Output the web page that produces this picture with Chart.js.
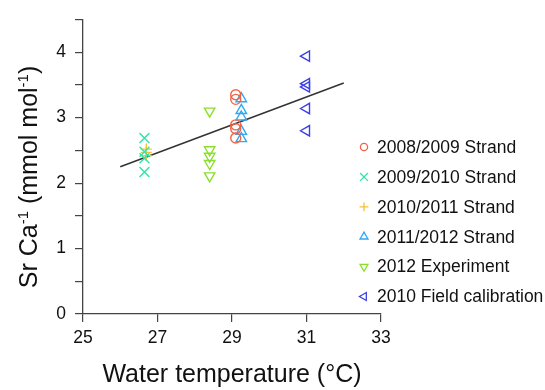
<!DOCTYPE html>
<html>
<head>
<meta charset="utf-8">
<script src="https://cdn.jsdelivr.net/npm/chart.js@4"></script>
<style>
  body { margin: 0; background: #fff; }
  #wrap { width: 545px; height: 390px; }
</style>
</head>
<body>
<div id="wrap"><canvas id="chart" width="545" height="390"></canvas></div>
<script>
"use strict"

// series (water temperature in °C, Sr/Ca in mmol/mol)
const labels = ['2008/2009 Strand', '2009/2010 Strand', '2010/2011 Strand',
  '2011/2012 Strand', '2012 Experiment', '2010 Field calibration']

const s0809X = [29.1, 29.1, 29.1, 29.1, 29.1]
const s0809Y = [3.35, 3.28, 2.89, 2.83, 2.69]
const s0910X = [26.65, 26.65, 26.65, 26.65]
const s0910Y = [2.69, 2.48, 2.38, 2.17]
const s1011X = [26.7, 26.7, 26.7]
const s1011Y = [2.52, 2.47, 2.42]
const s1112X = [29.25, 29.25, 29.25, 29.25, 29.25]
const s1112Y = [3.29, 3.11, 3.01, 2.79, 2.68]
const s12X = [28.4, 28.4, 28.4, 28.4, 28.4]
const s12Y = [3.10, 2.51, 2.41, 2.30, 2.11]
const s10fX = [31, 31, 31, 31, 31]
const s10fY = [3.94, 3.52, 3.47, 3.14, 2.80]

// regression line
const fitX = [26, 32]
const fitY = [2.25, 3.53]

const xTicks = [25, 27, 29, 31, 33]
const yTicks = [0, 1, 2, 3, 4]

const colors = ['#f06446', '#2ee6a6', '#f5c233', '#2fa9f4', '#8ae02a', '#3b3fe6']
const styles = [
  { pointStyle: 'circle', rotation: 0, radius: 5 },
  { pointStyle: 'crossRot', rotation: 0, radius: 7 },
  { pointStyle: 'cross', rotation: 0, radius: 5.5 },
  { pointStyle: 'triangle', rotation: 0, radius: 6 },
  { pointStyle: 'triangle', rotation: 180, radius: 6 },
  { pointStyle: 'triangle', rotation: -90, radius: 6 }
]
const legendRadius = [3.6, 5.6, 4.4, 4.6, 4.6, 4.6]

const FONT = "'Liberation Sans', Arial, sans-serif"

function pts(xs, ys) {
  return xs.map((x, i) => ({ x: x, y: ys[i] }))
}

const seriesX = [s0809X, s0910X, s1011X, s1112X, s12X, s10fX]
const seriesY = [s0809Y, s0910Y, s1011Y, s1112Y, s12Y, s10fY]

const datasets = seriesX.map((xs, i) => ({
  label: labels[i],
  data: pts(xs, seriesY[i]),
  pointStyle: styles[i].pointStyle,
  rotation: styles[i].rotation,
  pointRadius: styles[i].radius,
  pointHoverRadius: styles[i].radius,
  borderColor: colors[i],
  backgroundColor: 'rgba(0,0,0,0)',
  pointBorderWidth: 1.4,
  showLine: false
}))

datasets.push({
  type: 'line',
  label: 'fit',
  data: pts(fitX, fitY),
  borderColor: '#333',
  borderWidth: 1.5,
  pointRadius: 0,
  fill: false
})

// legend drawn next to the plot, overlapping the x range of the axis
const legendPlugin = {
  id: 'sideLegend',
  afterDraw(chart) {
    const ctx = chart.ctx
    ctx.save()
    ctx.font = '17.5px ' + FONT
    ctx.textBaseline = 'middle'
    labels.forEach((lab, i) => {
      const y = 147 + i * 29.9
      ctx.strokeStyle = colors[i]
      ctx.fillStyle = 'rgba(0,0,0,0)'
      ctx.lineWidth = 1.3
      Chart.helpers.drawPoint(ctx, {
        pointStyle: styles[i].pointStyle,
        rotation: styles[i].rotation,
        radius: legendRadius[i],
        borderWidth: 1.3
      }, 364, y)
      ctx.fillStyle = '#111'
      ctx.fillText(lab, 377, y + 1)
    })
    ctx.restore()
  }
}

// y title with superscripts
const yTitlePlugin = {
  id: 'yTitle',
  afterDraw(chart) {
    const ctx = chart.ctx
    const parts = [
      { t: 'Sr Ca', sup: false },
      { t: '-1', sup: true },
      { t: ' (mmol mol', sup: false },
      { t: '-1', sup: true },
      { t: ')', sup: false }
    ]
    const mainF = '25px ' + FONT
    const supF = '15px ' + FONT
    ctx.save()
    let w = 0
    parts.forEach(p => {
      ctx.font = p.sup ? supF : mainF
      p.w = ctx.measureText(p.t).width
      w += p.w
    })
    ctx.translate(37, 177)
    ctx.rotate(-Math.PI / 2)
    ctx.fillStyle = '#111'
    ctx.textBaseline = 'alphabetic'
    let x = -w / 2
    parts.forEach(p => {
      ctx.font = p.sup ? supF : mainF
      ctx.fillText(p.t, x, p.sup ? -9 : 0)
      x += p.w
    })
    ctx.restore()
  }
}

new Chart(document.getElementById('chart'), {
  type: 'scatter',
  data: { datasets: datasets },
  options: {
    responsive: false,
    animation: false,
    layout: { padding: { left: 0, right: 164, top: 16, bottom: 0 } },
    plugins: {
      legend: { display: false },
      tooltip: { enabled: false }
    },
    scales: {
      x: {
        type: 'linear',
        min: 25,
        max: 33,
        afterFit: (scale) => { scale.height = 76 },
        afterBuildTicks: (scale) => { scale.ticks = xTicks.map(v => ({ value: v })) },
        grid: { drawOnChartArea: false, drawTicks: true, tickLength: 8, color: '#444', lineWidth: 1.2 },
        border: { display: true, color: '#444', width: 1.3 },
        ticks: { color: '#111', font: { family: FONT, size: 17.5 }, padding: 6, maxRotation: 0 },
        title: {
          display: true,
          text: 'Water temperature (°C)',
          color: '#111',
          font: { family: FONT, size: 25 },
          padding: { top: 0, bottom: 0 }
        }
      },
      y: {
        type: 'linear',
        min: 0,
        max: 4.5,
        afterFit: (scale) => { scale.width = 83 },
        ticks: {
          stepSize: 0.5,
          color: '#111',
          font: { family: FONT, size: 17.5 },
          padding: 9,
          callback: (v) => yTicks.includes(v) ? String(v) : ''
        },
        grid: { drawOnChartArea: false, drawTicks: true, tickLength: 8, color: '#444', lineWidth: 1.2 },
        border: { display: true, color: '#444', width: 1.3 }
      }
    }
  },
  plugins: [legendPlugin, yTitlePlugin]
})
</script>
</body>
</html>
